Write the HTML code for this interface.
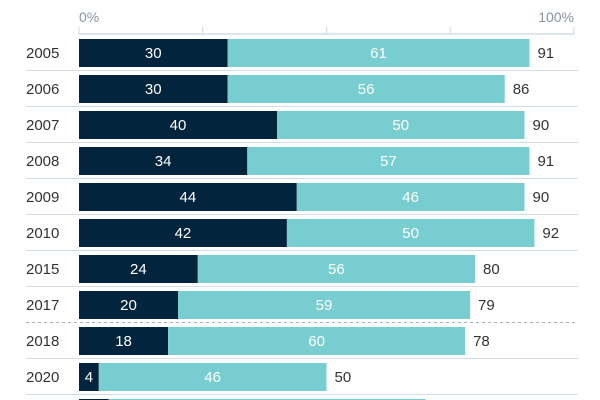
<!DOCTYPE html>
<html><head><meta charset="utf-8"><style>
html,body{margin:0;background:#fff;width:600px;height:400px;overflow:hidden;}
svg{display:block;font-family:"Liberation Sans",sans-serif;overflow:hidden;}
</style></head><body>
<svg id="chart" width="600" height="400"></svg>
<script>
const years=["2005","2006","2007","2008","2009","2010","2015","2017","2018","2020",""];
const darkVals=[30,30,40,34,44,42,24,20,18,4,6];
const tealVals=[61,56,50,57,46,50,56,59,60,46,64];
const totals=[91,86,90,91,90,92,80,79,78,50,70];
const ticks=[0,25,50,75,100];
const ns="http://www.w3.org/2000/svg";
const svg=document.getElementById("chart");
const x=v=>79+v*4.95;
const rowY=i=>39+i*36;
function mk(t,a,txt){const e=document.createElementNS(ns,t);for(const k in a)e.setAttribute(k,a[k]);if(txt!==undefined)e.textContent=txt;svg.appendChild(e);return e;}
let ax=mk("line",{x1:x(0),x2:x(100),y1:34,y2:34,stroke:"#d3dde6","stroke-width":1.5});


ticks.forEach(t=>{
  const l=mk("line",{x1:x(t),x2:x(t),y1:27,y2:34,stroke:"#d3dde6","stroke-width":1.2});
  
  
});
let t0=mk("text",{x:x(0),y:22,fill:"#8a93a0","font-size":14},"0%");


let t1=mk("text",{x:x(100),y:22,fill:"#8a93a0","font-size":14,"text-anchor":"end"},"100%");


years.forEach((yr,i)=>{
  const y=rowY(i);
  if(i<years.length-1){
    const sep=mk("line",{x1:26,x2:578,y1:y+31.5,y2:y+31.5,stroke:i==7?"#a8b0bc":"#d3dde6","stroke-width":1,"stroke-dasharray":i==7?"3,3":"none"});
    
    
  }
  const d=mk("rect",{x:x(0),y:y,width:x(darkVals[i])-x(0),height:28,fill:"#02243c"});
  
  
  const tb=mk("rect",{x:x(darkVals[i]),y:y,width:x(darkVals[i]+tealVals[i])-x(darkVals[i]),height:28,fill:"#78cdd0"});
  
  
  if(!yr)return;
  const yl=mk("text",{x:26,y:y+19,fill:"#333","font-size":15},yr);
  
  
  const dl=mk("text",{x:(x(0)+x(darkVals[i]))/2,y:y+19,fill:"#fff","font-size":15,"text-anchor":"middle"},darkVals[i]);
  
  
  const tl=mk("text",{x:(x(darkVals[i])+x(darkVals[i]+tealVals[i]))/2,y:y+19,fill:"#fff","font-size":15,"text-anchor":"middle"},tealVals[i]);
  
  
  const tt=mk("text",{x:x(darkVals[i]+tealVals[i])+8,y:y+19,fill:"#333","font-size":15},totals[i]);
  
  
});
</script>
</body></html>
